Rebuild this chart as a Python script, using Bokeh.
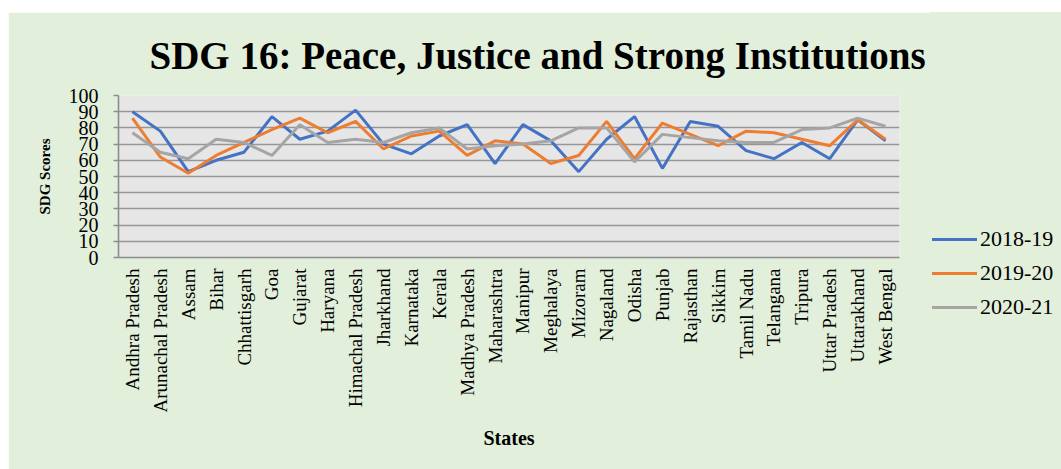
import math
from bokeh.plotting import figure
from bokeh.models import FactorRange, Range1d, SingleIntervalTicker, Spacer, Div
from bokeh.layouts import column, row
from bokeh.embed import file_html
from bokeh.resources import INLINE

states = ["Andhra Pradesh", "Arunachal Pradesh", "Assam", "Bihar", "Chhattisgarh", "Goa",
          "Gujarat", "Haryana", "Himachal Pradesh", "Jharkhand", "Karnataka", "Kerala",
          "Madhya Pradesh", "Maharashtra", "Manipur", "Meghalaya", "Mizoram", "Nagaland",
          "Odisha", "Punjab", "Rajasthan", "Sikkim", "Tamil Nadu", "Telangana", "Tripura",
          "Uttar Pradesh", "Uttarakhand", "West Bengal"]
s2018_19 = [90, 78, 53, 60, 65, 87, 73, 78, 91, 70, 64, 75, 82, 58, 82, 72, 53, 73, 87, 55,
            84, 81, 66, 61, 71, 61, 85, 72]
s2019_20 = [86, 62, 52, 63, 71, 79, 86, 77, 84, 67, 75, 78, 63, 72, 70, 58, 63, 84, 61, 83,
            76, 69, 78, 77, 73, 69, 85, 73]
s2020_21 = [77, 65, 61, 73, 71, 63, 82, 71, 73, 71, 77, 80, 67, 69, 70, 72, 80, 80, 59, 76,
            74, 72, 71, 71, 79, 80, 86, 81]
series_names = ["2018-19", "2019-20", "2020-21"]
colors = ["#4472C4", "#ED7D31", "#A5A5A5"]
title_text = "SDG 16: Peace, Justice and Strong Institutions"

BG = "#E2EFDA"
SERIF = "Liberation Serif"

# ---------------- main chart ----------------
p = figure(x_range=FactorRange(factors=states, range_padding=0), y_range=Range1d(0, 100),
           width=922, height=457, output_backend="svg", toolbar_location=None,
           min_border_left=110, min_border_right=31, min_border_top=82, min_border_bottom=212)
p.background_fill_color = "#E7E6E6"
p.border_fill_color = BG
p.outline_line_color = None

p.title.text = title_text
p.title.text_font = SERIF
p.title.text_font_style = "bold"
p.title.text_font_size = "39px"
p.title.text_color = "black"
p.title.align = "left"
p.title.offset = 31
p.title.standoff = 38

p.xgrid.grid_line_color = None
p.ygrid.grid_line_color = "#969696"
p.ygrid.grid_line_width = 1.6
p.yaxis.ticker = SingleIntervalTicker(interval=10)

for ax in (p.xaxis[0], p.yaxis[0]):
    ax.axis_line_color = "#8C8C8C"
    ax.axis_line_width = 1.6
    ax.major_label_text_font = SERIF
    ax.major_label_text_color = "black"
    ax.axis_label_text_font = SERIF
    ax.axis_label_text_font_style = "bold"
    ax.axis_label_text_color = "black"
    ax.minor_tick_line_color = None

p.yaxis.major_tick_line_color = "#8C8C8C"
p.yaxis.major_tick_line_width = 1.5
p.yaxis.major_tick_out = 5
p.yaxis.major_tick_in = 0
p.yaxis.major_label_standoff = 15
p.yaxis.major_label_text_font_size = "20px"
p.yaxis.axis_label = "SDG Scores"
p.yaxis.axis_label_text_font_size = "15px"
p.yaxis.axis_label_standoff = 13

p.xaxis.major_tick_line_color = None
p.xaxis.major_tick_out = 0
p.xaxis.major_label_standoff = 11
p.xaxis.major_label_orientation = math.pi / 2
p.xaxis.major_label_text_font_size = "19px"
p.xaxis.axis_label = "States"
p.xaxis.axis_label_text_font_size = "20px"
p.xaxis.axis_label_standoff = 11

for name, vals, c in zip(series_names, [s2018_19, s2019_20, s2020_21], colors):
    p.line(x=states, y=vals, line_color=c, line_width=3)

# ---------------- legend (to the right of the chart, below its centre) ----------------
rows_html = "".join(
    f'<div style="display:flex;align-items:center;height:34px;">'
    f'<span style="display:inline-block;width:45px;height:3px;background:{c};"></span>'
    f'<span style="margin-left:3px;font-family:\'{SERIF}\';font-size:22px;color:black;'
    f'line-height:22px;">{name}</span></div>'
    for name, c in zip(series_names, colors)
)
legend_div = Div(
    text=f'<div style="padding-top:210px;padding-left:2px;">{rows_html}</div>',
    width=131, height=457,
    styles={"background-color": BG, "margin": "0", "padding": "0", "overflow": "hidden"},
)

page = column(Spacer(height=12, width=1061),
              row(Spacer(width=8, height=457), p, legend_div, spacing=0),
              spacing=0)
open("out.html", "w").write(file_html(page, INLINE))
